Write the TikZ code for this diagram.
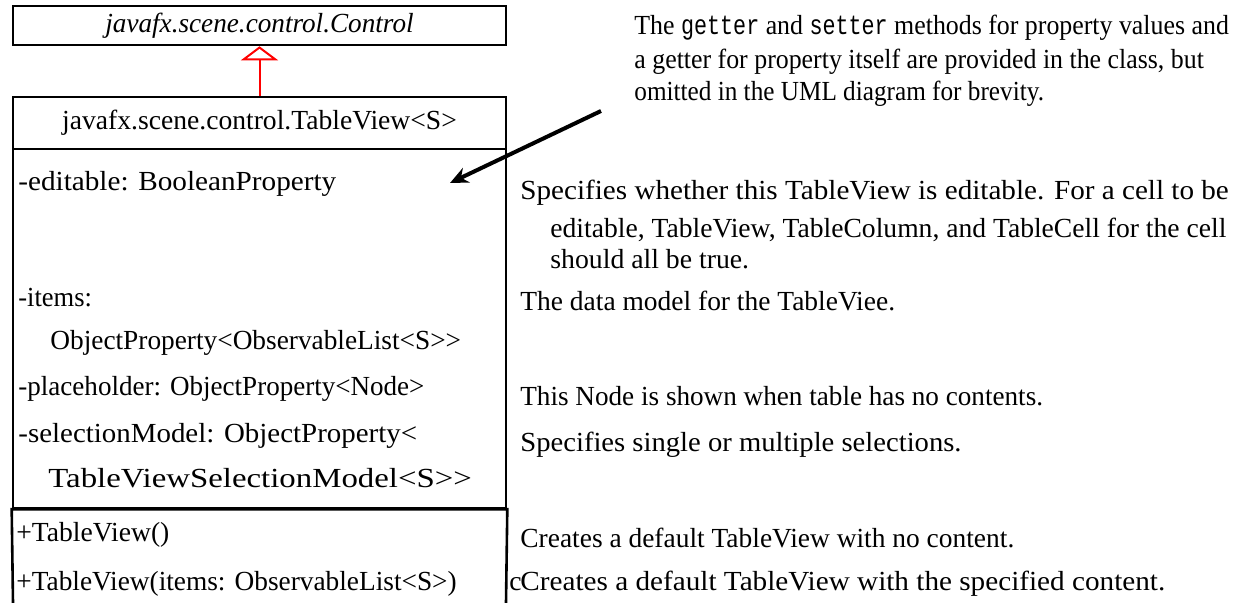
\documentclass[tikz,border=0pt]{standalone}
\usepackage{graphicx}
\usepackage{fontspec}
\setmainfont{Liberation Serif}
\setmonofont{Liberation Mono}
\usetikzlibrary{arrows.meta}
\newcommand{\hs}[2]{\scalebox{#1}[1]{#2}}
\newcommand{\cw}[1]{\scalebox{0.84}[1]{\texttt{#1}}}
\begin{document}
\begin{tikzpicture}[x=0.5pt,y=-0.5pt,
  txt/.style={anchor=base west, inner sep=0pt, font=\fontsize{13.8}{16}\selectfont},
  umlbox/.style={draw, line width=1.3pt, inner sep=0pt, font=\fontsize{13.8}{16}\selectfont},
  boxline/.style={line width=1.3pt},
  inherit/.style={red, line width=1pt, -{Triangle[open, length=7pt, width=18.5pt]}},
  pointer/.style={line width=2pt, -{Stealth[length=9pt, width=8pt]}}]
\useasboundingbox (0,0) rectangle (1242,603);
% superclass
\node[umlbox, minimum width=246.5pt, minimum height=19.5pt, font=\fontsize{13.8}{16}\selectfont\itshape] (control) at (259.5,25.5) {\hs{0.985}{javafx.scene.control.Control}};
% class name compartment
\node[umlbox, minimum width=246.5pt, minimum height=26pt] (tv) at (259.5,123) {javafx.scene.control.TableView<S>};
% attribute compartment
\node[draw, line width=1.3pt, minimum width=246.5pt, minimum height=179.5pt, inner sep=0pt] (attrs) at (259.5,328.5) {};
% method compartment (open at the bottom)
\draw[boxline] (13,603) -- (attrs.south west) -- (attrs.south east) -- (506,603);
% inheritance
\draw[inherit] (tv.north) -- (control.south);
% attributes
\node[txt] (a1) at (18,191) {\hs{1.058}{-editable: BooleanProperty}};
\node[txt] (a2) at (18,307) {\hs{0.96}{-items:}};
\node[txt] (a2b) at (50,350) {\hs{0.99}{ObjectProperty<ObservableList<S>{}>}};
\node[txt] (a3) at (18,396) {\hs{0.98}{-placeholder: ObjectProperty<Node>}};
\node[txt] (a4) at (18,443) {\hs{1.048}{-selectionModel: ObjectProperty<}};
\node[txt] (a4b) at (48,488) {\hs{1.19}{TableViewSelectionModel<S>{}>}};
% methods
\node[txt] (m1) at (16,542) {\hs{1.0}{+TableView()}};
\node[txt] (m2) at (16,590) {\hs{0.99}{+TableView(items: ObservableList<S>)}};
% note
\node[txt] (n1) at (634,35) {\hs{0.937}{The \cw{getter} and \cw{setter} methods for property values and}};
\node[txt] (n2) at (634,69) {\hs{0.937}{a getter for property itself are provided in the class, but}};
\node[txt] (n3) at (634,101) {\hs{0.914}{omitted in the UML diagram for brevity.}};
\coordinate (noteptr) at (601,111);
\coordinate (editptr) at (450,183);
\draw[pointer] (noteptr) -- (editptr);
% descriptions
\node[txt] (d1) at (520,200) {\hs{1.056}{Specifies whether this TableView is editable. For a cell to be}};
\node[txt] (d1b) at (550,238) {\hs{1.0}{editable, TableView, TableColumn, and TableCell for the cell}};
\node[txt] (d1c) at (550,269) {\hs{1.005}{should all be true.}};
\node[txt] (d2) at (520,311) {\hs{0.995}{The data model for the TableViee.}};
\node[txt] (d3) at (520,406) {\hs{0.984}{This Node is shown when table has no contents.}};
\node[txt] (d4) at (520,452) {\hs{1.037}{Specifies single or multiple selections.}};
\node[txt] (d5) at (520,548) {\hs{0.994}{Creates a default TableView with no content.}};
\node[txt] (d6c) at (509,590) {c};
\node[txt] (d6) at (520,590) {\hs{1.058}{Creates a default TableView with the specified content.}};
\end{tikzpicture}
\end{document}
